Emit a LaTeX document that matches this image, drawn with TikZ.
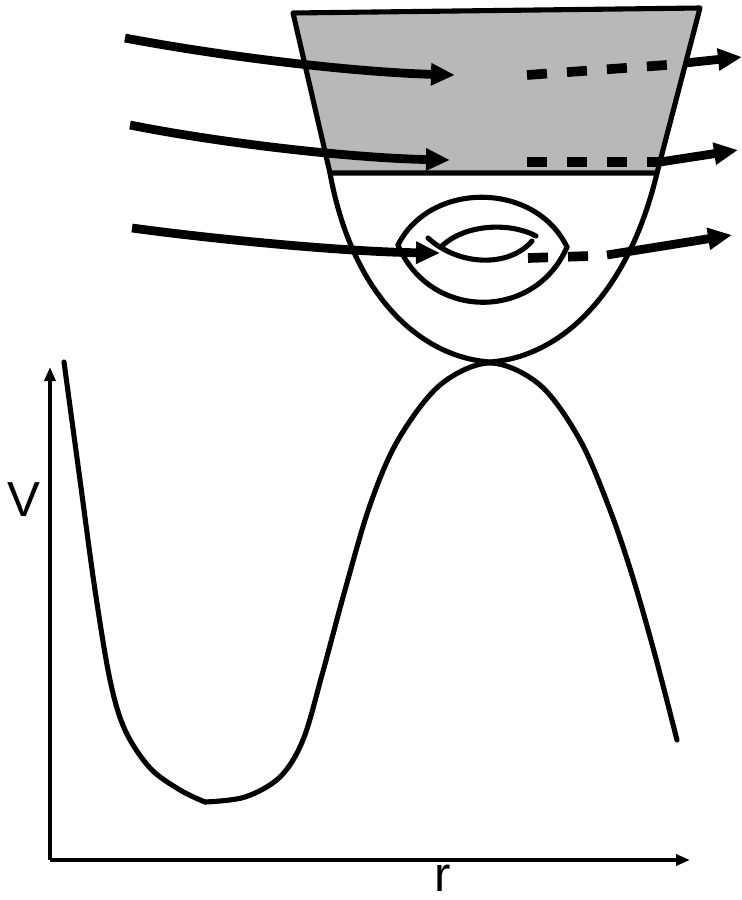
\documentclass[tikz,border=0pt]{standalone}
\usepackage{fontspec}
\setsansfont{Liberation Sans}
\usetikzlibrary{arrows.meta,positioning}
\tikzset{
  potline/.style={line width=2.9pt, line join=round, line cap=round},
  flowarrow/.style={line width=5pt, -{Triangle[length=0.48cm, width=0.42cm]}},
  dashflow/.style={line width=5.5pt, dash pattern=on 11.4pt off 11.4pt},
  axisarrow/.style={line width=2pt, -{Triangle[length=0.28cm, width=0.22cm]}},
  shadedcap/.style={fill=black!28, draw=black, line width=2.9pt, line join=round},
  axislabel/.style={font=\sffamily\fontsize{28}{30}\selectfont, inner sep=0pt, anchor=base}
}

\begin{document}
\begin{tikzpicture}[x=0.02cm, y=-0.02cm]
    \useasboundingbox (0,0) rectangle (742,900);
    \coordinate (origin) at (50,860);
    \coordinate (vtop) at (50,367);
    \coordinate (rend) at (690,860);
    \draw[axisarrow] (origin) -- (vtop);
    \draw[axisarrow] (origin) -- (rend);
    \node[axislabel] (vlabel) at (24,516) {V};
    \node[axislabel] (rlabel) at (443,891) {r};

    \draw[shadedcap] (293,13) -- (700,8) -- (657,173) -- (330,173) -- cycle;
    \draw[potline] (330,173) .. controls (352,295) and (420,357) .. (490,362);
    \draw[potline] (657,173) .. controls (628,295) and (560,357) .. (490,362);

    \draw[potline] plot[smooth, tension=0.55] coordinates {(64,362) (80,480) (95,590) (110,680) (125,730) (150,768) (180,790) (205,802)};
    \draw[potline] plot[smooth, tension=0.55] coordinates {(205,802) (245,797) (280,777) (303,740) (322,675) (345,590) (370,505) (398,440) (440,385) (490,363) (540,385) (580,440) (610,510) (633,578) (655,655) (677,740)};

    \draw[potline] (398,245) .. controls (430,181) and (535,181) .. (567,247);
    \draw[potline] (398,245) .. controls (430,321) and (535,321) .. (567,247);
    \draw[potline] (442,246) .. controls (465,224) and (510,222) .. (536,236);
    \draw[potline] (428,238) .. controls (460,267) and (510,267) .. (532,241);

    \coordinate (inA) at (125,38);
    \coordinate (inB) at (130,125);
    \coordinate (inC) at (132,228);
    \draw[flowarrow] (inA) .. controls (220,56) and (350,72) .. (455,75);
    \draw[flowarrow] (inB) .. controls (220,143) and (350,158) .. (450,160);
    \draw[flowarrow] (inC) .. controls (220,240) and (350,252) .. (440,253);
    \draw[dashflow] (527,75) -- (667,65);
    \draw[dashflow] (527,162) -- (660,162);
    \draw[dashflow] (528,258) -- (590,256);
    \draw[flowarrow] (685,63) -- (742,57);
    \draw[flowarrow] (660,162) -- (738,150);
    \draw[flowarrow] (607,255) -- (732,235);
  \end{tikzpicture}
\end{document}
